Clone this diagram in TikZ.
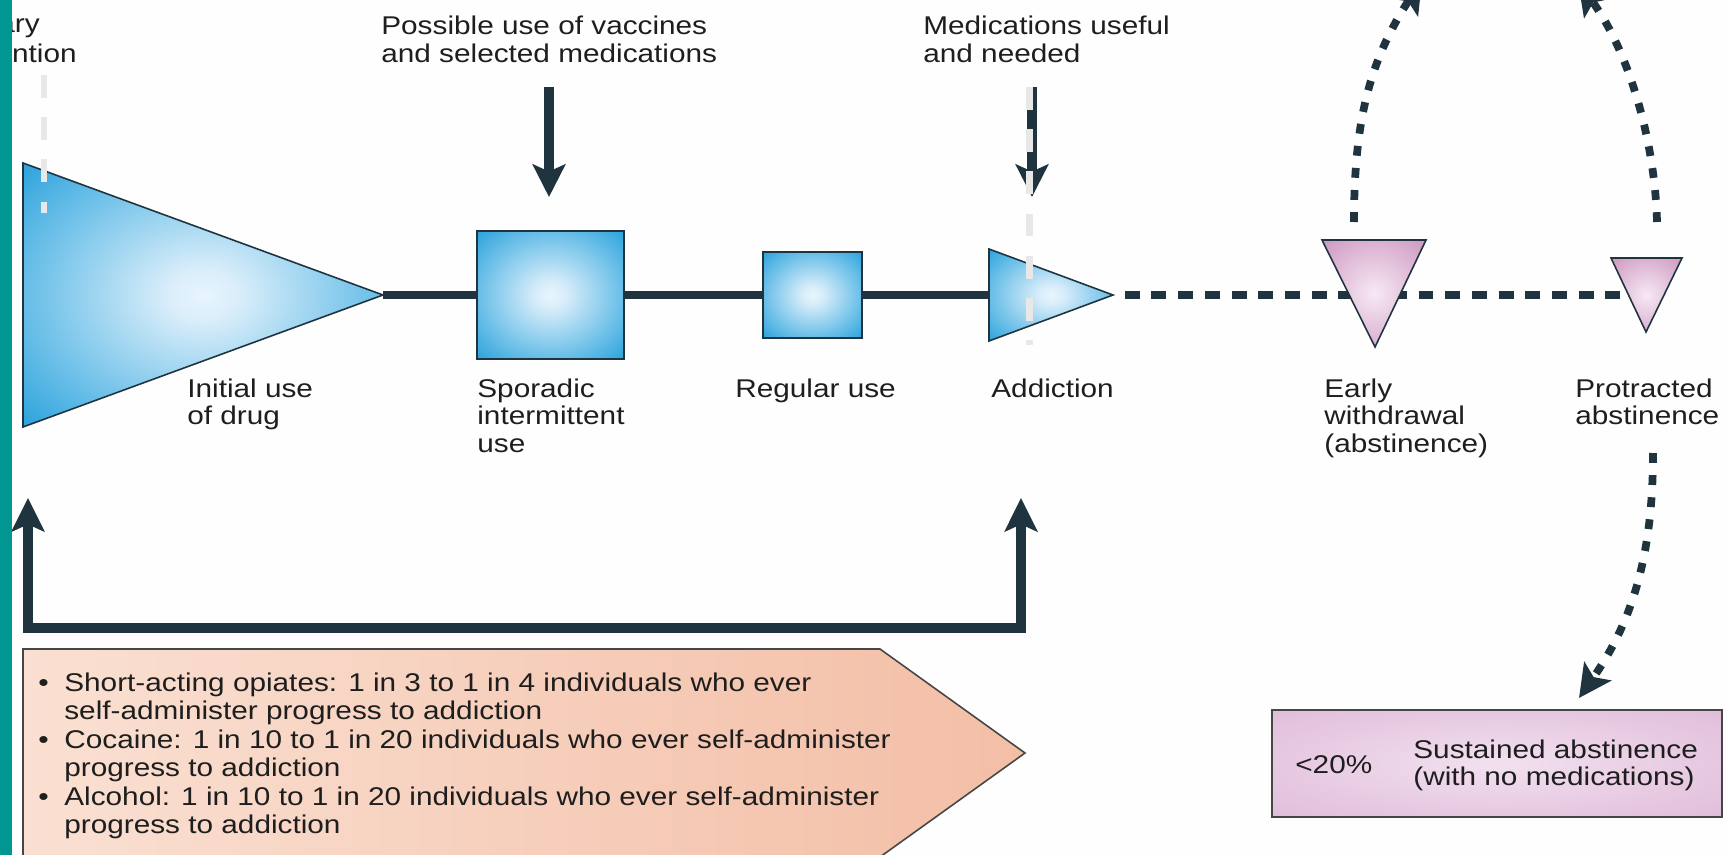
\documentclass[tikz,border=0pt]{standalone}
\usepackage{fontspec}
\setmainfont[FakeStretch=1.16]{Liberation Sans}
\usetikzlibrary{arrows.meta}
\definecolor{ink}{RGB}{32,52,64}
\definecolor{txt}{RGB}{30,30,30}
\definecolor{tealbar}{RGB}{0,150,145}
\definecolor{ghost}{RGB}{232,232,232}
\definecolor{peachL}{RGB}{250,224,210}
\definecolor{peachR}{RGB}{243,190,166}
\definecolor{edgegray}{RGB}{70,70,70}
\pgfdeclareradialshading{blueglow}{\pgfpoint{0bp}{0bp}}{rgb(0bp)=(0.91,0.96,0.99); rgb(5bp)=(0.85,0.93,0.98); rgb(24bp)=(0.42,0.75,0.91); rgb(40bp)=(0.07,0.59,0.84); rgb(50bp)=(0.04,0.57,0.83)}
\pgfdeclareradialshading{pinkglow}{\pgfpoint{0bp}{0bp}}{rgb(0bp)=(0.97,0.91,0.96); rgb(8bp)=(0.93,0.84,0.91); rgb(50bp)=(0.74,0.46,0.67)}
\pgfdeclareradialshading{pinkbox}{\pgfpoint{0bp}{0bp}}{rgb(0bp)=(0.95,0.88,0.94); rgb(20bp)=(0.91,0.80,0.89); rgb(50bp)=(0.85,0.69,0.82)}
\begin{document}
\begin{tikzpicture}[x=0.02cm, y=-0.02cm,
  lab/.style={anchor=base west, inner sep=0pt, text=txt, font=\fontsize{14.6}{15.93}\selectfont},
  blab/.style={anchor=base west, inner sep=0pt, text=txt, font=\fontsize{14.6}{16.27}\selectfont},
  solidline/.style={draw=ink, line width=4pt},
  dashline/.style={draw=ink, line width=4.8pt, dash pattern=on 8.5pt off 6.7pt, dash phase=8.5pt},
  curvedash/.style={draw=ink, line width=4.4pt, dash pattern=on 5.6pt off 7pt},
  tipA/.style={-{Stealth[length=18.5pt, width=18.5pt, inset=4pt]}},
  fat/.style={draw=ink, line width=5.7pt, line join=miter},
  ghostline/.style={draw=ghost, line width=3.6pt, dash pattern=on 13pt off 11pt},
  outline/.style={draw=ink, line width=0.9pt},
  boxnode/.style={draw=ink, line width=0.9pt, shade, shading=blueglow, inner sep=0pt}
]
\useasboundingbox (0,0) rectangle (1727,855);
\begin{scope}
\clip (0,0) rectangle (1727,855);
\fill[white!99!gray] (0,0) rectangle (1727,855);

% ---------- coordinates ----------
\coordinate (initTL) at (23,163);
\coordinate (initBL) at (23,427);
\coordinate (initTip) at (383,295);
\coordinate (addTL) at (989,249);
\coordinate (addBL) at (989,341);
\coordinate (addTip) at (1113,295);
\coordinate (addL) at (989,295);
\coordinate (earlyL) at (1322,240);
\coordinate (earlyR) at (1426,240);
\coordinate (earlyB) at (1375,347);
\coordinate (protL) at (1611,258);
\coordinate (protR) at (1682,258);
\coordinate (protB) at (1646,332);
\coordinate (protC) at (1640,295);

% ---------- top texts and arrows ----------
\node[lab, anchor=base east] (tPrim1) at (40,33) {ary};
\node[lab, anchor=base east] (tPrim2) at (77,63) {ntion};
\node[lab] (tPoss) at (381,35) {\begin{tabular}[t]{@{}l@{}}Possible use of vaccines\\and selected medications\end{tabular}};
\node[lab] (tMed) at (923,35) {\begin{tabular}[t]{@{}l@{}}Medications useful\\and needed\end{tabular}};

\coordinate (a1s) at (549,87);
\coordinate (a1e) at (549,197);
\coordinate (a2s) at (1032,87);
\coordinate (a2e) at (1032,197);
\draw[fat, tipA] (a1s) -- (a1e);
\draw[fat, tipA] (a2s) -- (a2e);

% ---------- main line ----------
\draw[solidline] (initTip) -- (addL);
\draw[dashline] (addTip) -- (protC);

% ---------- shapes ----------
\shadedraw[shading=blueglow, outline] (initTL) -- (initTip) -- (initBL) -- cycle;
\node[boxnode, minimum width=2.94cm, minimum height=2.56cm] (spor) at (550.5,295) {};
\node[boxnode, minimum width=1.98cm, minimum height=1.72cm] (reg) at (812.5,295) {};
\shadedraw[shading=blueglow, outline] (addTL) -- (addTip) -- (addBL) -- cycle;
\shadedraw[shading=pinkglow, outline] (earlyL) -- (earlyR) -- (earlyB) -- cycle;
\shadedraw[shading=pinkglow, outline] (protL) -- (protR) -- (protB) -- cycle;

% ---------- stage labels ----------
\node[lab] (lInit) at (187,397) {\begin{tabular}[t]{@{}l@{}}Initial use\\of drug\end{tabular}};
\node[lab] (lSpor) at (477,397) {\begin{tabular}[t]{@{}l@{}}Sporadic\\intermittent\\use\end{tabular}};
\node[lab] (lReg) at (735,397) {Regular use};
\node[lab] (lAdd) at (991,397) {Addiction};
\node[lab] (lEarly) at (1324,397) {\begin{tabular}[t]{@{}l@{}}Early\\withdrawal\\(abstinence)\end{tabular}};
\node[lab] (lProt) at (1575,397) {\begin{tabular}[t]{@{}l@{}}Protracted\\abstinence\end{tabular}};

% ---------- curved dashed arrows ----------
\coordinate (c1s) at (1354,222);
\coordinate (c1e) at (1422,-20);
\coordinate (c2s) at (1657,222);
\coordinate (c2e) at (1578,-18);
\coordinate (c3s) at (1653,453);
\coordinate (c3e) at (1579,698);
\draw[curvedash, tipA] (c1s) .. controls (1354,120) and (1370,60) .. (c1e);
\draw[curvedash, tipA] (c2s) .. controls (1655,140) and (1628,50) .. (c2e);
\draw[curvedash, tipA] (c3s) .. controls (1653,560) and (1630,625) .. (c3e);

% ---------- sustained abstinence box ----------
\shadedraw[shading=pinkbox, draw=edgegray, line width=0.9pt] (1272,710) rectangle (1722,817);
\node[lab] (lPct) at (1295,773) {<20\%};
\node[lab] (lSust) at (1413,758) {\begin{tabular}[t]{@{}l@{}}Sustained abstinence\\(with no medications)\end{tabular}};

% ---------- feedback arrow ----------
\coordinate (fbL) at (28,498);
\coordinate (fbLB) at (28,628);
\coordinate (fbRB) at (1021,628);
\coordinate (fbR) at (1021,498);
\draw[fat, {Stealth[length=19pt, width=18.5pt, inset=4pt]}-{Stealth[length=19pt, width=18.5pt, inset=4pt]}] (fbL) -- (fbLB) -- (fbRB) -- (fbR);

% ---------- pentagon ----------
\shade[left color=peachL, right color=peachR] (23,649) -- (880,649) -- (1025,753) -- (880,857) -- (23,857) -- cycle;
\draw[draw=edgegray, line width=0.9pt] (23,649) -- (880,649) -- (1025,753) -- (880,857) -- (23,857) -- cycle;
\node[blab] (b1) at (38,691) {\textbullet};
\node[blab] (t1) at (64,691) {\begin{tabular}[t]{@{}l@{}}Short-acting opiates: 1 in 3 to 1 in 4 individuals who ever\\self-administer progress to addiction\end{tabular}};
\node[blab] (b2) at (38,748) {\textbullet};
\node[blab] (t2) at (64,748) {\begin{tabular}[t]{@{}l@{}}Cocaine: 1 in 10 to 1 in 20 individuals who ever self-administer\\progress to addiction\end{tabular}};
\node[blab] (b3) at (38,805) {\textbullet};
\node[blab] (t3) at (64,805) {\begin{tabular}[t]{@{}l@{}}Alcohol: 1 in 10 to 1 in 20 individuals who ever self-administer\\progress to addiction\end{tabular}};

% ---------- ghost dashed guides ----------
\coordinate (g1s) at (44,75);
\coordinate (g1e) at (44,213);
\coordinate (g2s) at (1029.5,87);
\coordinate (g2e) at (1029.5,345);
\draw[ghostline] (g1s) -- (g1e);
\draw[ghostline] (g2s) -- (g2e);

% ---------- teal side bar ----------
\fill[tealbar] (0,0) rectangle (12,855);
\end{scope}
\end{tikzpicture}
\end{document}
